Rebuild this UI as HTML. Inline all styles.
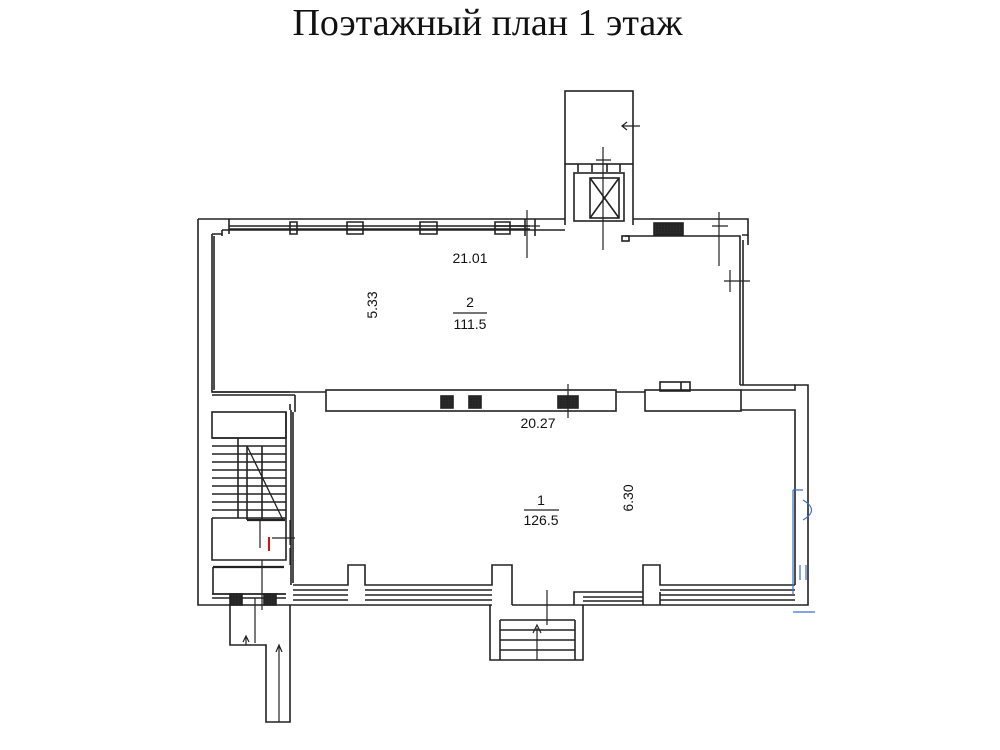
<!DOCTYPE html>
<html><head><meta charset="utf-8"><style>
html,body{margin:0;padding:0;background:#fff;width:1000px;height:750px;overflow:hidden}
.t{position:absolute;left:0;top:0px;width:975px;text-align:center;font-family:"Liberation Serif",serif;font-size:38px;line-height:46px;color:#111}
svg{position:absolute;left:0;top:0}
</style></head><body>
<div class="t">Поэтажный план 1 этаж</div>
<svg width="1000" height="750" viewBox="0 0 1000 750" fill="none" stroke="#222" stroke-width="1.6">
<defs><pattern id="h" width="3" height="3" patternUnits="userSpaceOnUse"><rect width="3" height="3" fill="#777"/><path d="M0 3L3 0" stroke="#222" stroke-width="1"/></pattern></defs>
<!-- shaft -->
<rect x="565" y="91" width="68" height="73"/>
<path d="M565 164V225M633 164V225"/>
<path d="M578 164V172M592 164V172M607 164V172M620 164V172"/>
<rect x="574" y="173" width="50" height="48"/>
<rect x="590" y="178" width="29" height="40"/><path d="M590 178L619 218M619 178L590 218"/>
<path d="M640 126H622M627 122L622 126L627 130" stroke-width="1.2"/>
<path d="M603 147V250M596 160H611" stroke-width="1.2"/>
<!-- upper outer -->
<path d="M198 219H565M633 219H748V235H742"/>
<path d="M198 219V605H290"/>
<path d="M212 234V392H290"/>
<path d="M214 236V390"/>
<path d="M212 234H222M222 230V236M222 230H565M625 236H738M728 236H740V385"/>
<path d="M740 385H795" />
<path d="M748 235V245M743 240V385"/>
<path d="M229 219V234M229 226H530M229 229H530M290 222H297V234H290ZM347 222H363V234H347ZM420 222H437V234H420ZM495 222H510V234H495Z"/>
<path d="M495 226H525M525 219V236M535 219V236"/>
<path d="M527 210V258M519 226H540" stroke-width="1.2"/>
<rect x="654" y="223" width="29" height="12" fill="url(#h)"/>
<path d="M719 212V266M712 226H728" stroke-width="1.2"/>
<path d="M730 270V292M724 281H750" stroke-width="1.2"/>
<rect x="622" y="236" width="7" height="5"/>
<!-- middle wall -->
<path d="M212 392H290M212 395H295"/>
<rect x="326" y="390" width="290" height="21"/>
<path d="M290 392H326M616 392H645M290 404V410M295 395V412"/>
<rect x="645" y="390" width="96" height="21"/>
<rect x="660" y="382" width="30" height="9"/><path d="M681 382V391"/>
<rect x="441" y="396" width="12" height="12" fill="url(#h)"/>
<rect x="469" y="396" width="12" height="12" fill="url(#h)"/>
<rect x="558" y="396" width="20" height="12" fill="url(#h)"/>
<path d="M568 384V418" stroke-width="1.2"/>
<path d="M741 390H795V385H808V605H795M741 410H795V585"/>
<path d="M291 410V585M293 412V583"/>
<!-- bottom wall -->
<path d="M293 585H348V565H365V585H492V565H512V605M365 590H492M365 595H492M365 600H492M293 590H348M293 595H348M293 600H348M290 605H492"/>
<path d="M574 605V592H643V565H660V585H795M583 597H643M583 601H643M660 590H795M660 595H795M660 600H795M643 605V592M660 605V592M574 605H795"/>
<path d="M512 605H574"/>
<!-- entrance stairs -->
<path d="M490 605V660H583V605M500 620H575M500 630H575M500 640H575M500 650H575M500 620V660M575 620V660"/>
<path d="M547 590V625M537 628V660M533 633L537 625L541 633" stroke-width="1.2"/>
<!-- left stair -->
<rect x="212" y="412" width="74" height="26"/>
<path d="M212 438H286M212 446H286M212 454H286M212 462H286M212 470H286M212 478H286M212 486H286M212 494H286M212 502H286M212 510H286M212 518H286"/>
<path d="M238 438V518M247 446V520M262 446V520"/>
<path d="M247 446L283 520" stroke-width="1.3"/>
<path d="M247 520H285" stroke-width="2.2"/>
<path d="M212 518V560H286V412"/>
<path d="M213 567H284" stroke-width="2.2"/>
<path d="M213 567V594H286"/>
<path d="M212 594H286M212 598H286"/>
<rect x="230" y="594" width="12" height="11" fill="url(#h)"/>
<rect x="264" y="594" width="12" height="11" fill="url(#h)"/>
<path d="M260 520V548M262 560V610M255 598V643" stroke-width="1.2"/>
<path d="M272 538H295M290 520V545M290 548V565" stroke-width="1.2"/>
<path d="M269 537V551" stroke="#d11" stroke-width="2"/>
<path d="M230 605V645H266V722H290V605"/>
<path d="M246 636V645M243 642L246 636L249 642M279 645V722M276 652L279 645L282 652" stroke-width="1.2"/>
<!-- blue marks -->
<path d="M793 490V595M793 490H803M793 612H815" stroke="#3a6fd0" stroke-width="1.2"/>
<path d="M803 500Q820 510 803 520" stroke="#3a6fd0" stroke-width="1.2"/>
<path d="M800 565V580M806 565V580" stroke="#3a6fd0" stroke-width="1.2"/>
<!-- labels -->
<g fill="#111" stroke="none" font-family="Liberation Sans, sans-serif" font-size="14">
<text x="470" y="263" text-anchor="middle">21.01</text>
<text x="470" y="307" text-anchor="middle">2</text>
<text x="470" y="329" text-anchor="middle">111.5</text>
<text transform="translate(377,305) rotate(-90)" text-anchor="middle">5.33</text>
<text x="538" y="428" text-anchor="middle">20.27</text>
<text x="541" y="505" text-anchor="middle">1</text>
<text x="541" y="525" text-anchor="middle">126.5</text>
<text transform="translate(633,498) rotate(-90)" text-anchor="middle">6.30</text>
</g>
<path d="M453 313H487M524 510H559" stroke-width="1.2"/>
</svg>
</body></html>
